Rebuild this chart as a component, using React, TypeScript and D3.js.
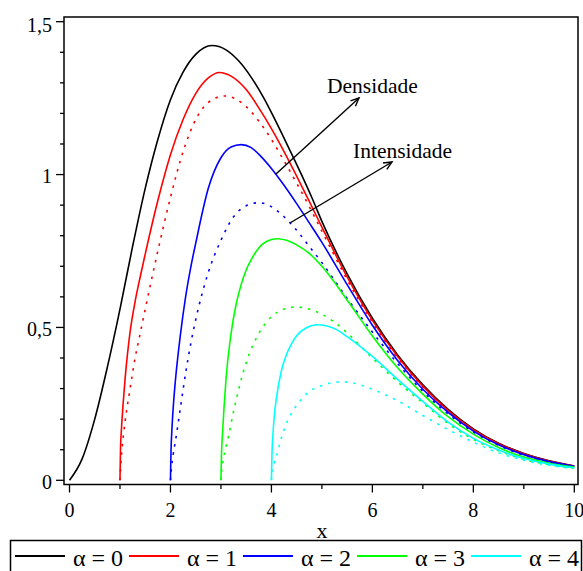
import React from 'react';
import * as d3 from 'd3';

type Pt = [number, number];

// ---------- data ----------
const dens0: Pt[] = [[0,0],[0.25,0.07],[0.5,0.2],[0.75,0.37],[1,0.56],[1.25,0.765],[1.5,0.955],[1.75,1.115],[2,1.245],[2.25,1.335],[2.5,1.393],[2.82,1.422],[3.1,1.408],[3.35,1.372],[3.6,1.318],[3.85,1.25],[4.1,1.17],[4.35,1.085],[4.6,0.998],[4.8,0.925],[5,0.847],[5.5,0.675],[6,0.53],[6.5,0.41],[7,0.312],[7.5,0.232],[8,0.168],[8.5,0.121],[9,0.088],[9.5,0.064],[10,0.047]];
const dens1: Pt[] = [[1,0],[1.01,0.1],[1.03,0.17],[1.06,0.245],[1.1,0.33],[1.15,0.415],[1.2,0.485],[1.3,0.585],[1.4,0.665],[1.5,0.74],[1.75,0.915],[2,1.065],[2.25,1.18],[2.5,1.265],[2.75,1.316],[2.97,1.334],[3.2,1.322],[3.5,1.278],[3.75,1.218],[4,1.15],[4.25,1.075],[4.5,0.995],[4.75,0.912],[5,0.828],[5.5,0.665],[6,0.523],[6.5,0.405],[7,0.308],[7.5,0.229],[8,0.166],[8.5,0.12],[9,0.087],[9.5,0.063],[10,0.047]];
const int1: Pt[] = [[1,0],[1.02,0.06],[1.05,0.12],[1.1,0.19],[1.2,0.3],[1.3,0.4],[1.4,0.48],[1.5,0.56],[1.75,0.75],[2,0.925],[2.25,1.075],[2.5,1.18],[2.75,1.236],[3.07,1.257],[3.3,1.247],[3.5,1.222],[3.75,1.175],[4,1.115],[4.25,1.045],[4.5,0.972],[4.75,0.895],[5,0.815],[5.5,0.656],[6,0.517],[6.5,0.401],[7,0.305],[7.5,0.227],[8,0.164],[8.5,0.119],[9,0.086],[9.5,0.062],[10,0.046]];
const dens2: Pt[] = [[2,0],[2.01,0.09],[2.03,0.17],[2.06,0.25],[2.1,0.33],[2.2,0.48],[2.3,0.6],[2.4,0.695],[2.5,0.775],[2.75,0.955],[3,1.055],[3.2,1.09],[3.4,1.098],[3.6,1.088],[3.8,1.058],[4,1.02],[4.25,0.965],[4.5,0.905],[4.75,0.842],[5,0.778],[5.5,0.64],[6,0.507],[6.5,0.392],[7,0.298],[7.5,0.222],[8,0.161],[8.5,0.116],[9,0.084],[9.5,0.061],[10,0.046]];
const int2: Pt[] = [[2,0],[2.02,0.04],[2.05,0.08],[2.1,0.13],[2.2,0.24],[2.3,0.35],[2.4,0.445],[2.5,0.525],[2.75,0.68],[3,0.785],[3.25,0.862],[3.5,0.898],[3.75,0.908],[4,0.895],[4.25,0.862],[4.5,0.818],[4.75,0.765],[5,0.712],[5.5,0.595],[6,0.485],[6.5,0.382],[7,0.291],[7.5,0.217],[8,0.158],[8.5,0.114],[9,0.082],[9.5,0.06],[10,0.045]];
const dens3: Pt[] = [[3,0],[3.01,0.08],[3.03,0.15],[3.06,0.235],[3.1,0.33],[3.2,0.48],[3.3,0.575],[3.4,0.64],[3.5,0.688],[3.6,0.722],[3.75,0.76],[3.9,0.781],[4.1,0.79],[4.3,0.785],[4.5,0.77],[4.75,0.742],[5,0.7],[5.5,0.59],[6,0.472],[6.5,0.368],[7,0.282],[7.5,0.208],[8,0.151],[8.5,0.107],[9,0.076],[9.5,0.056],[10,0.043]];
const int3: Pt[] = [[3,0],[3.02,0.04],[3.05,0.07],[3.1,0.11],[3.15,0.145],[3.25,0.225],[3.5,0.385],[3.75,0.48],[4,0.535],[4.25,0.56],[4.5,0.567],[4.75,0.56],[5,0.543],[5.25,0.517],[5.5,0.482],[6,0.4],[6.5,0.322],[7,0.253],[7.5,0.186],[8,0.134],[8.5,0.097],[9,0.069],[9.5,0.051],[10,0.04]];
const dens4: Pt[] = [[4,0],[4.01,0.08],[4.03,0.15],[4.06,0.215],[4.1,0.27],[4.2,0.36],[4.3,0.412],[4.4,0.447],[4.5,0.473],[4.7,0.5],[4.9,0.509],[5.1,0.505],[5.3,0.492],[5.5,0.47],[6,0.405],[6.5,0.33],[7,0.258],[7.5,0.19],[8,0.137],[8.5,0.099],[9,0.071],[9.5,0.053],[10,0.041]];
const int4: Pt[] = [[4,0],[4.02,0.035],[4.05,0.055],[4.1,0.08],[4.2,0.14],[4.3,0.187],[4.4,0.22],[4.5,0.245],[4.75,0.29],[5,0.31],[5.2,0.319],[5.4,0.322],[5.6,0.319],[5.8,0.31],[6,0.298],[6.5,0.26],[7,0.212],[7.5,0.166],[8,0.125],[8.5,0.09],[9,0.066],[9.5,0.049],[10,0.039]];

const legendLabels = ['α = 0', 'α = 1', 'α = 2', 'α = 3', 'α = 4'];
const xMajorTicks = [0, 2, 4, 6, 8, 10];
const xMinorTicks = [1, 3, 5, 7, 9];
const yMajorTicks = [0, 0.5, 1, 1.5];
const yMajorLabels = ['0', '0,5', '1', '1,5'];
const yMinorTicks = [0.1, 0.2, 0.3, 0.4, 0.6, 0.7, 0.8, 0.9, 1.1, 1.2, 1.3, 1.4];
const xTitle = 'x';
const notes = ['Densidade', 'Intensidade'];

// ---------- styling ----------
const palette = ['#000000', '#ff0000', '#0000ff', '#00ff00', '#00ffff'];
const series = [
  { data: dens0, c: 0, dotted: false },
  { data: dens1, c: 1, dotted: false },
  { data: int1, c: 1, dotted: true },
  { data: dens2, c: 2, dotted: false },
  { data: int2, c: 2, dotted: true },
  { data: dens3, c: 3, dotted: false },
  { data: int3, c: 3, dotted: true },
  { data: dens4, c: 4, dotted: false },
  { data: int4, c: 4, dotted: true },
];

const W = 583, H = 571;
const FONT = '"Liberation Serif", "Times New Roman", serif';

function Arrow({ x1, y1, x2, y2 }: { x1: number; y1: number; x2: number; y2: number }) {
  const a = Math.atan2(y2 - y1, x2 - x1);
  const L = 9, s = 0.42;
  const p1 = [x2 - L * Math.cos(a - s), y2 - L * Math.sin(a - s)];
  const p2 = [x2 - L * Math.cos(a + s), y2 - L * Math.sin(a + s)];
  return (
    <g stroke="#000" strokeWidth={1.4} fill="none">
      <line x1={x1} y1={y1} x2={x2} y2={y2} />
      <polyline points={`${p1[0]},${p1[1]} ${x2},${y2} ${p2[0]},${p2[1]}`} />
    </g>
  );
}

export default function App() {
  const x = d3.scaleLinear().domain([0, 10]).range([69.5, 574.3]);
  const y = d3.scaleLinear().domain([0, 1.5]).range([480.3, 21.7]);
  const line = d3.line<Pt>().x(d => x(d[0])).y(d => y(d[1])).curve(d3.curveMonotoneX);

  const frame = { l: 64, t: 17, r: 578, b: 484.5 };

  return (
    <svg width={W} height={H} style={{ position: 'absolute', left: 0, top: 0, background: '#fff' }} fontFamily={FONT}>
      <rect x={0} y={0} width={W} height={H} fill="#fff" />
      {/* curves */}
      <g fill="none" strokeLinejoin="round">
        {series.map((s, i) => (
          <path key={i} d={line(s.data) || ''} stroke={palette[s.c]} strokeWidth={1.6}
            strokeDasharray={s.dotted ? '2.5 6' : undefined} />
        ))}
      </g>
      {/* frame */}
      <rect x={frame.l} y={frame.t} width={frame.r - frame.l} height={frame.b - frame.t} fill="none" stroke="#000" strokeWidth={1.5} />
      {/* ticks */}
      <g stroke="#000" strokeWidth={1.3}>
        {yMajorTicks.map(v => <line key={'ym' + v} x1={56} x2={frame.l} y1={y(v)} y2={y(v)} />)}
        {yMinorTicks.map(v => <line key={'yn' + v} x1={60} x2={frame.l} y1={y(v)} y2={y(v)} />)}
        {xMajorTicks.map(v => <line key={'xm' + v} x1={x(v)} x2={x(v)} y1={frame.b} y2={frame.b + 8} />)}
        {xMinorTicks.map(v => <line key={'xn' + v} x1={x(v)} x2={x(v)} y1={frame.b} y2={frame.b + 4.5} />)}
      </g>
      <g fontSize={20} fill="#000">
        {yMajorTicks.map((v, i) => (
          <text key={'yl' + v} x={52} y={y(v) + (v === 1.5 ? 10 : 8.5)} textAnchor="end">{yMajorLabels[i]}</text>
        ))}
        {xMajorTicks.map(v => (
          <text key={'xl' + v} x={x(v)} y={516.5} textAnchor="middle">{v}</text>
        ))}
        <text x={x(5)} y={538} textAnchor="middle" fontSize={22}>{xTitle}</text>
      </g>
      {/* annotations */}
      <text x={327} y={93} fontSize={21.5}>{notes[0]}</text>
      <text x={353} y={158} fontSize={21.5}>{notes[1]}</text>
      <Arrow x1={276} y1={174} x2={359} y2={98} />
      <Arrow x1={290} y1={223} x2={392} y2={162} />
      {/* legend */}
      <rect x={10.5} y={540.5} width={571} height={40} fill="none" stroke="#000" strokeWidth={1.5} />
      {legendLabels.map((lab, i) => {
        const x0 = 15 + 114 * i;
        return (
          <g key={lab}>
            <line x1={x0} x2={x0 + 50} y1={556} y2={556} stroke={palette[i]} strokeWidth={1.8} />
            <text x={x0 + 58} y={566} fontSize={24}>{lab}</text>
          </g>
        );
      })}
    </svg>
  );
}
